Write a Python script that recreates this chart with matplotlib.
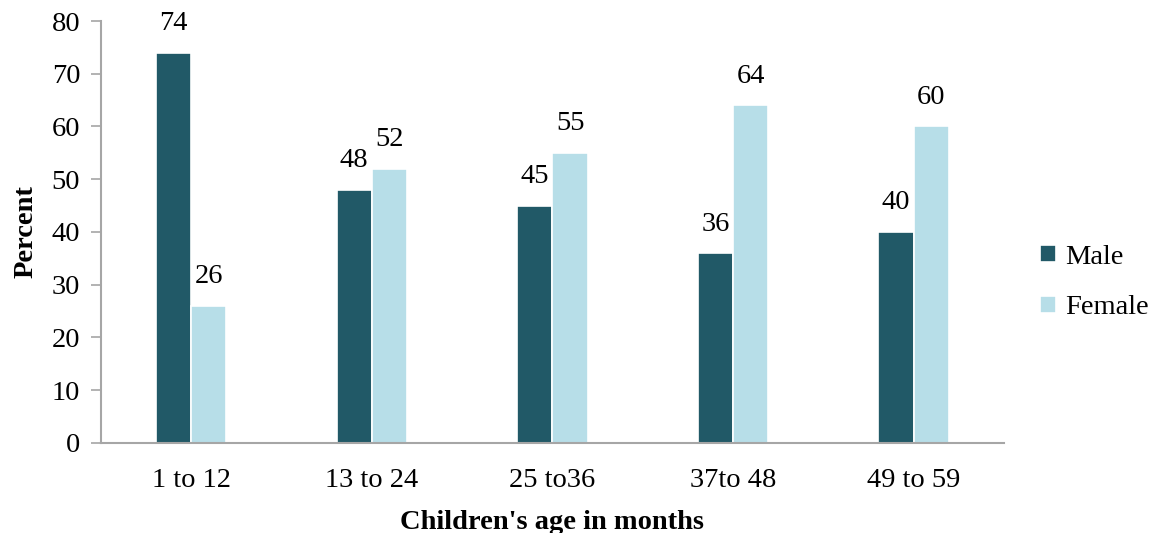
import numpy as np
import matplotlib
matplotlib.use("Agg")
import matplotlib.pyplot as plt

age_groups = ["1 to 12", "13 to 24", "25 to36", "37to 48", "49 to 59"]
male = [74, 48, 45, 36, 40]
female = [26, 52, 55, 64, 60]

plt.rcParams["font.family"] = ["Liberation Serif", "DejaVu Serif"]
fs = 20.5

fig = plt.figure(figsize=(11.54, 5.33), dpi=100)
ax = fig.add_axes([0.0875, 0.169, 0.7825, 0.7916])

x = np.arange(len(age_groups))
w = 0.195
b1 = ax.bar(x - w / 2, male, w, color="#215967", edgecolor="white", linewidth=1.2, label="Male")
b2 = ax.bar(x + w / 2, female, w, color="#B7DEE8", edgecolor="white", linewidth=1.2, label="Female")

# value labels centred a fixed distance above each bar
for bars, vals in ((b1, male), (b2, female)):
    for rect, v in zip(bars, vals):
        ax.text(rect.get_x() + rect.get_width() / 2, v + 5.5, f"{v}",
                ha="center", va="center", fontsize=fs)

ax.set_xlim(-0.5, len(age_groups) - 0.5)
ax.set_ylim(0, 80)
ax.set_yticks(range(0, 81, 10))
ax.set_xticks(x)
ax.set_xticklabels(age_groups)
ax.tick_params(axis="y", labelsize=fs, length=7, color="#A6A6A6", width=1.2, pad=8)
ax.tick_params(axis="x", labelsize=fs, length=0, pad=18)

for s in ("top", "right"):
    ax.spines[s].set_visible(False)
for s in ("left", "bottom"):
    ax.spines[s].set_color("#A6A6A6")
    ax.spines[s].set_linewidth(1.5)

ax.set_ylabel("Percent", fontsize=fs, fontweight="bold", labelpad=9)
ax.set_xlabel("Children's age in months", fontsize=fs, fontweight="bold", labelpad=12)

ax.legend(loc="center left", bbox_to_anchor=(1.012, 0.38), frameon=False,
          fontsize=fs, handlelength=0.55, handleheight=0.55, handletextpad=0.3,
          labelspacing=0.9)

fig.savefig("out.png", dpi=100)
